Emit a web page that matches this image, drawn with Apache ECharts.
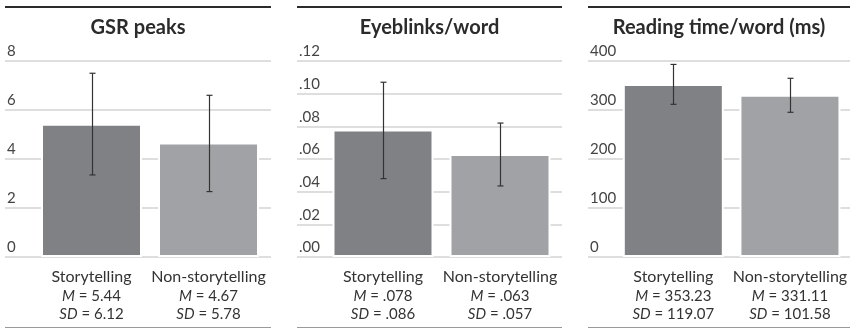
<!DOCTYPE html>
<html><head><meta charset="utf-8">
<script src="https://cdn.jsdelivr.net/npm/echarts@6/dist/echarts.min.js"></script>
<style>html,body{margin:0;padding:0;background:#fff}#c{width:850px;height:329px}</style>
</head><body><div id="c"></div>
<script>
const categories = ['Storytelling', 'Non-storytelling'];
const titles = ['GSR peaks', 'Eyeblinks/word', 'Reading time/word (ms)'];

const gsrMeans = [5.44, 4.67];
const gsrSD = [6.12, 5.78];
const gsrErrLow = [3.35, 2.67];
const gsrErrHigh = [7.50, 6.60];
const gsrTicks = ['0', '2', '4', '6', '8'];

const blinkMeans = [0.078, 0.063];
const blinkSD = [0.086, 0.057];
const blinkErrLow = [0.048, 0.0435];
const blinkErrHigh = [0.107, 0.082];
const blinkTicks = ['.00', '.02', '.04', '.06', '.08', '.10', '.12'];

const readMeans = [353.23, 331.11];
const readSD = [119.07, 101.58];
const readErrLow = [311.6, 295.3];
const readErrHigh = [393, 364.7];
const readTicks = ['0', '100', '200', '300', '400'];

const barColors = ['#808184', '#a1a2a5'];
const FONT = 'Lato';

const fmt2 = v => v.toFixed(2);
const fmt3 = v => v.toFixed(3).replace(/^0/, '');

const panels = [
  {means: gsrMeans, sd: gsrSD, lo: gsrErrLow, hi: gsrErrHigh, ticks: gsrTicks, max: 8, interval: 2, f: fmt2,
   bgL: 5, bgR: 271, barL: 33, barR: 267},
  {means: blinkMeans, sd: blinkSD, lo: blinkErrLow, hi: blinkErrHigh, ticks: blinkTicks, max: 0.12, interval: 0.02, f: fmt3,
   bgL: 297, bgR: 562, barL: 324.5, barR: 558.5},
  {means: readMeans, sd: readSD, lo: readErrLow, hi: readErrHigh, ticks: readTicks, max: 400, interval: 100, f: fmt2,
   bgL: 588, bgR: 850, barL: 615, barR: 849}
];

const TOP = 61, H = 196;
const grid = [], xAxis = [], yAxis = [], series = [], graphic = [];

panels.forEach((p, i) => {
  const gBg = 2 * i, gBar = 2 * i + 1;
  grid.push({left: p.bgL, width: p.bgR - p.bgL, top: TOP, height: H});
  grid.push({left: p.barL, width: p.barR - p.barL, top: TOP, height: H});
  xAxis.push({gridIndex: gBg, type: 'value', min: 0, max: 1, show: false});
  xAxis.push({
    gridIndex: gBar, type: 'category', data: categories,
    axisLine: {show: false}, axisTick: {show: false},
    axisLabel: {
      margin: 9, interval: 0,
      formatter: (v, idx) => '{c|' + v + '}\n{it|M}{n| = ' + p.f(p.means[idx]) + '}\n{it|SD}{n| = ' + p.f(p.sd[idx]) + '}',
      rich: {
        c: {fontFamily: FONT, fontSize: 16, color: '#333', lineHeight: 21},
        it: {fontFamily: FONT, fontSize: 15, fontStyle: 'italic', color: '#333', lineHeight: 18},
        n: {fontFamily: FONT, fontSize: 15, color: '#333', lineHeight: 18}
      }
    }
  });
  yAxis.push({
    gridIndex: gBg, type: 'value', min: 0, max: p.max, interval: p.interval,
    axisLine: {show: false}, axisTick: {show: false},
    splitLine: {show: true, lineStyle: {color: '#dedede', width: 2}},
    axisLabel: {
      inside: true, margin: 2, verticalAlign: 'bottom', align: 'left',
      padding: [0, 0, 2, 0],
      fontFamily: FONT, fontSize: 15, color: '#444',
      formatter: v => p.ticks[Math.round(v / p.interval)]
    }
  });
  yAxis.push({gridIndex: gBar, type: 'value', min: 0, max: p.max, interval: p.interval, show: false});

  series.push({
    type: 'bar', xAxisIndex: gBar, yAxisIndex: gBar, barWidth: 101,
    data: p.means.map((m, k) => ({value: m, itemStyle: {color: barColors[k]}})),
    itemStyle: {borderColor: '#fff', borderWidth: 2},
    silent: true, animation: false
  });
  series.push({
    type: 'custom', xAxisIndex: gBar, yAxisIndex: gBar, z: 10, silent: true, animation: false,
    encode: {x: 0, y: [1, 2]},
    data: p.lo.map((l, k) => [k, l, p.hi[k]]),
    renderItem: (params, api) => {
      const a = api.coord([api.value(0), api.value(1)]);
      const b = api.coord([api.value(0), api.value(2)]);
      const cx = Math.round(a[0]) + 0.5;
      const st = {stroke: '#333', lineWidth: 1.2};
      return {type: 'group', children: [
        {type: 'line', shape: {x1: cx, y1: a[1], x2: cx, y2: b[1]}, style: st},
        {type: 'line', shape: {x1: cx - 3, y1: a[1], x2: cx + 3, y2: a[1]}, style: st},
        {type: 'line', shape: {x1: cx - 3, y1: b[1], x2: cx + 3, y2: b[1]}, style: st}
      ]};
    }
  });

  graphic.push({type: 'line', shape: {x1: p.bgL, y1: 7, x2: p.bgR, y2: 7}, style: {stroke: '#2b2b2b', lineWidth: 2}});
  graphic.push({type: 'line', shape: {x1: p.bgL, y1: 327.5, x2: p.bgR, y2: 327.5}, style: {stroke: '#999', lineWidth: 1}});
  graphic.push({type: 'text', x: (p.bgL + p.bgR) / 2, y: 28,
    style: {text: titles[i], align: 'center', verticalAlign: 'middle', font: 'bold 20px Lato', fill: '#2b2b2b'}});
});

const chart = echarts.init(document.getElementById('c'), null, {renderer: 'canvas'});
chart.setOption({animation: false, grid, xAxis, yAxis, series, graphic});
</script>
</body></html>
